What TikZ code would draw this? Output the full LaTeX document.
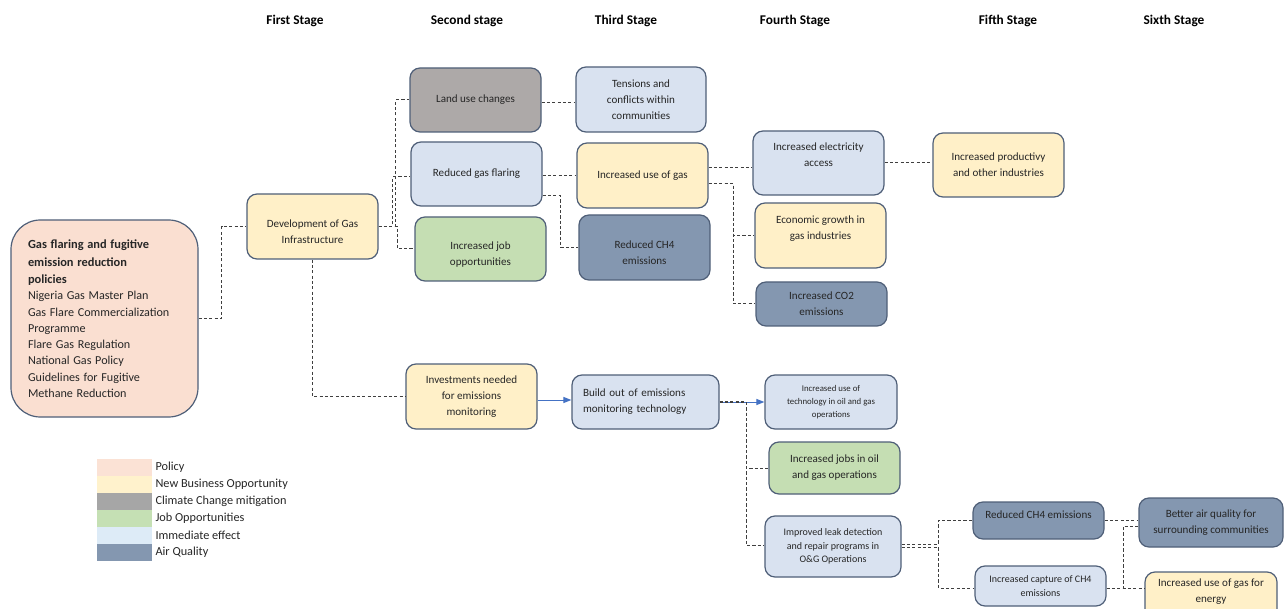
\documentclass[tikz,border=0pt]{standalone}
\usepackage{fontspec}
\setmainfont{Carlito}
\usetikzlibrary{calc,arrows.meta}
\definecolor{cpol}{HTML}{FADFD1}
\definecolor{cyel}{HTML}{FFF0C8}
\definecolor{cgry}{HTML}{ADA9A8}
\definecolor{cgrn}{HTML}{C5DEB3}
\definecolor{clbl}{HTML}{D9E2F0}
\definecolor{cdrk}{HTML}{8497B0}
\definecolor{cbrd}{HTML}{4F5F78}
\definecolor{ctxt}{HTML}{262626}
\definecolor{ccon}{HTML}{3F3F3F}
\definecolor{carr}{HTML}{4472C4}
\definecolor{lpol}{HTML}{FBE2D5}
\definecolor{lyel}{HTML}{FFF2CC}
\definecolor{lgry}{HTML}{A6A6A6}
\definecolor{lgrn}{HTML}{C5E0B4}
\definecolor{llbl}{HTML}{DDEBF7}
\definecolor{ldrk}{HTML}{8497B0}
\newcommand\dn{\rule{0pt}{13.5pt}}
\newcommand\up{\rule[-9pt]{0pt}{9pt}}
\begin{document}
\begin{tikzpicture}[x=0.75pt,y=-0.75pt,
  box/.style={draw=cbrd, line width=0.9pt, rounded corners=7.5pt, align=center,
    text=ctxt, font=\fontsize{8.3}{12}\selectfont, inner sep=2pt},
  small/.style={font=\fontsize{6.6}{10}\selectfont},
  smallb/.style={font=\fontsize{7.5}{10}\selectfont},
  sz/.style 2 args={minimum width=#1*0.75pt, minimum height=#2*0.75pt},
  con/.style={draw=ccon, line width=0.75pt, dash pattern=on 2.4pt off 1.6pt},
  barrow/.style={draw=carr, line width=0.75pt, -{Triangle[length=6pt,width=4.5pt]}},
  stage/.style={font=\fontsize{10}{12}\selectfont\bfseries, text=black},
  swatch/.style={draw=none, inner sep=0pt, minimum width=55*0.75pt, minimum height=17*0.75pt},
  legtext/.style={anchor=west, inner sep=0pt, text=ctxt, font=\fontsize{9.2}{10}\selectfont}
]
\useasboundingbox (0,0) rectangle (1284,609);
\path[clip] (0,0) rectangle (1284,609);

% stage headers
\node[stage] (h1) at (295,21) {First Stage};
\node[stage] (h2) at (467,21) {Second stage};
\node[stage] (h3) at (626,21) {Third Stage};
\node[stage] (h4) at (795,21) {Fourth Stage};
\node[stage] (h5) at (1008,21) {Fifth Stage};
\node[stage] (h6) at (1174,21) {Sixth Stage};

% boxes
\node[box, fill=cpol, sz={187}{197}, rounded corners=22pt, text width=114.75pt, align=left] (pol) at (104.5,318.5)
 {{\fontsize{9.3}{13.1}\selectfont\bfseries Gas flaring and fugitive\\ emission reduction\\ policies\par}%
  \fontsize{9.1}{12.2}\selectfont Nigeria Gas Master Plan\\ Gas Flare Commercialization\\ Programme\\ Flare Gas Regulation\\ National Gas Policy\\ Guidelines for Fugitive\\ Methane Reduction};

\node[box, fill=cyel, sz={131}{65}] (dev) at (312.5,226.5) {\dn Development of Gas\\ Infrastructure};

\node[box, fill=cgry, sz={131}{64}] (land) at (475.5,100) {Land use changes};
\node[box, fill=clbl, sz={131}{64}] (flar) at (476.5,174) {Reduced gas flaring};
\node[box, fill=cgrn, sz={131}{64}] (job) at (480.5,249) {\dn Increased job\\ opportunities};
\node[box, fill=cyel, sz={131}{65}] (inv) at (471.5,396.5) {Investments needed\\ for emissions\\ monitoring};

\node[box, fill=clbl, sz={130}{65}] (tens) at (641,99.5) {Tensions and\\ conflicts within\\ communities};
\node[box, fill=cyel, sz={131}{65}] (usegas) at (642.5,175.5) {Increased use of gas};
\node[box, fill=cdrk, sz={131}{65}] (rch4) at (644.5,247.5) {\dn Reduced CH4\\ emissions};
\node[box, fill=clbl, sz={147}{54}, text width=93.75pt, align=left] (build) at (645.5,402)
 {Build out of emissions\\ monitoring technology};

\node[box, fill=clbl, sz={131}{64}] (elec) at (818.5,163) {Increased electricity\\ access\\ \mbox{}};
\node[box, fill=cyel, sz={131}{65}] (econ) at (820.5,235.5) {Economic growth in\\ gas industries\\ \mbox{}};
\node[box, fill=cdrk, sz={131}{44}] (co2) at (821.5,304) {Increased CO2\\ emissions};
\node[box, fill=clbl, sz={132}{54}, small] (tech) at (831,402) {Increased use of\\ technology in oil and gas\\ operations};
\node[box, fill=cgrn, sz={131}{52}] (jobs2) at (834.5,468) {Increased jobs in oil\\ and gas operations};
\node[box, fill=clbl, sz={136}{61}, smallb] (leak) at (833,546.5) {Improved leak detection\\ and repair programs in\\ O\&G Operations};

\node[box, fill=cyel, sz={131}{64}] (prod) at (998.5,165) {Increased productivy\\ and other industries};
\node[box, fill=cdrk, sz={131}{37}] (rch4b) at (1038.5,520.5) {Reduced CH4 emissions\up};
\node[box, fill=clbl, sz={131}{40}, smallb] (capt) at (1040.5,586) {Increased capture of CH4\\ emissions};

\node[box, fill=cdrk, sz={144}{49}] (air) at (1211,522.5) {Better air quality for\\ surrounding communities};
\node[box, fill=cyel, sz={132}{50}] (gasen) at (1211,597) {Increased use of gas for\\ energy\up};

% connectors
\draw[con] (pol.east) -- ++(23,0) |- (dev.west);
\draw[con] (dev.east) -- ++(17,0) |- (land.west);
\draw[con] (dev.east) -- ++(14,0) |- ($(flar.west)+(0,3)$);
\draw[con] (dev.east) -- ++(19,0) |- (job.west);
\draw[con] (dev.south) |- (inv.west);
\draw[con] ($(land.east)+(0,3)$) -- ($(tens.west)+(0,3.5)$);
\draw[con] (flar.east |- usegas.west) -- (usegas.west);
\draw[con] ($(flar.east)+(0,22)$) -- ++(18,0) |- (rch4.west);
\draw[con] ($(usegas.east)+(0,-7.5)$) -- ($(elec.west)+(0,5)$);
\draw[con] ($(usegas.east)+(0,8.5)$) -- ++(25,0) |- (econ.west);
\draw[con] ($(usegas.east)+(0,8.5)$) -- ++(25,0) |- (co2.west);
\draw[con] (elec.east) -- (prod.west |- elec.east);
\draw[barrow] ($(inv.east)+(0,3.5)$) -- (build.west |- {$(inv.east)+(0,3.5)$});
\draw[barrow] (build.east) -- (tech.west);
\coordinate (split) at (746,402);
\draw[con, line width=1pt] (build.east) -- (split);
\draw[con] (split) |- (jobs2.west);
\draw[con] (split) |- ($(leak.west)+(0,-1.5)$);
\draw[con] ($(leak.east)+(0,-2.5)$) -- ++(37,0) |- (rch4b.west);
\draw[con] ($(leak.east)+(0,0.5)$) -- ++(37,0) |- ($(capt.west)+(0,2)$);
\draw[con] (rch4b.east) -- (air.west |- rch4b.east);
\draw[con] ($(capt.east)+(0,2)$) -- ++(17,0) |- ($(air.west)+(0,3.5)$);
\draw[con] ($(capt.east)+(0,2)$) -- (gasen.west |- {$(capt.east)+(0,2)$});

% legend
\node[swatch, fill=lpol] (s1) at (124.5,467.5) {};
\node[swatch, fill=lyel] (s2) at (124.5,484.5) {};
\node[swatch, fill=lgry] (s3) at (124.5,501.5) {};
\node[swatch, fill=lgrn] (s4) at (124.5,518.5) {};
\node[swatch, fill=llbl] (s5) at (124.5,535.5) {};
\node[swatch, fill=ldrk] (s6) at (124.5,552.5) {};
\node[legtext] (t1) at ($(s1.east)+(3,0)$) {Policy};
\node[legtext] (t2) at ($(s2.east)+(3,0)$) {New Business Opportunity};
\node[legtext] (t3) at ($(s3.east)+(3,0)$) {Climate Change mitigation};
\node[legtext] (t4) at ($(s4.east)+(3,0)$) {Job Opportunities};
\node[legtext] (t5) at ($(s5.east)+(3,0)$) {Immediate effect};
\node[legtext] (t6) at ($(s6.east)+(3,0)$) {Air Quality};
\end{tikzpicture}
\end{document}
